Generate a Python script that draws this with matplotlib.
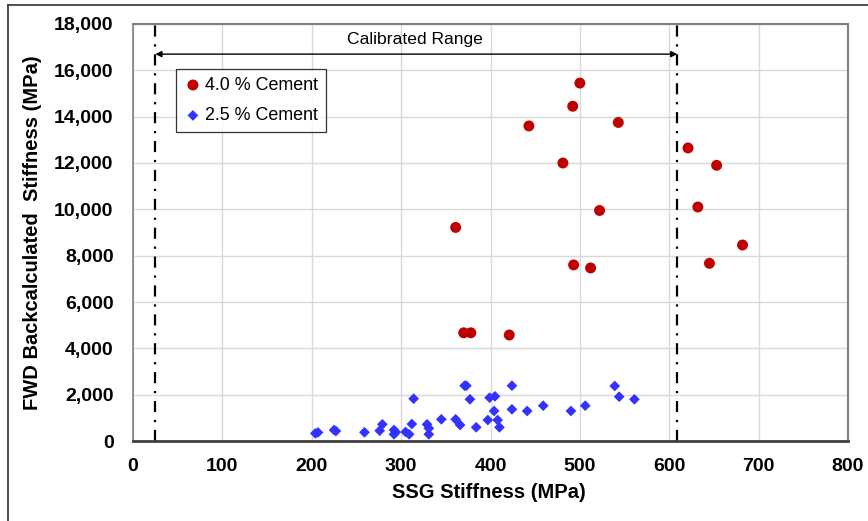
import matplotlib
matplotlib.use("Agg")
import matplotlib.pyplot as plt
from matplotlib.ticker import FuncFormatter
from matplotlib.lines import Line2D

plt.rcParams['font.family'] = ['Liberation Sans', 'DejaVu Sans']

# 4.0 % Cement
ssg_40 = [500, 492, 443, 543, 621, 481, 653, 632, 522, 361, 682, 493, 512, 645, 370, 378, 421]
fwd_40 = [15450, 14450, 13600, 13750, 12650, 12000, 11900, 10100, 9950, 9220, 8460, 7600, 7470, 7670, 4670, 4670, 4575]

# 2.5 % Cement
ssg_25 = [204, 207, 225, 227, 259, 276, 279, 292, 292, 294, 305, 309, 312, 314, 329, 331, 331, 345,
          361, 366, 371, 373, 377, 384, 397, 399, 405, 404, 408, 410, 424, 424, 441, 459, 490, 506,
          539, 544, 561]
fwd_25 = [330, 370, 475, 430, 375, 445, 720, 475, 290, 380, 390, 290, 734, 1826, 720, 548, 289, 936,
          936, 690, 2387, 2387, 1800, 591, 906, 1869, 1929, 1295, 906, 591, 2387, 1368, 1295, 1524, 1295, 1524,
          2374, 1912, 1800]

calib_lo, calib_hi = 25, 609
xticks = list(range(0, 801, 100))
yticks = list(range(0, 18001, 2000))

fig = plt.figure(figsize=(8.68, 5.21), dpi=100)
ax = fig.add_axes([133/868, 80/521, 715/868, 417/521])

ax.scatter(ssg_40, fwd_40, s=62, marker='o', color='#C00000', edgecolors='none', zorder=3, label='4.0 % Cement')
ax.scatter(ssg_25, fwd_25, s=30, marker='D', color='#3333FF', edgecolors='none', zorder=3, label='2.5 % Cement')

for xv in (calib_lo, calib_hi):
    ax.axvline(xv, color='black', lw=1.6, linestyle=(0, (5, 3.5, 1, 3.5)), zorder=2)

ax.annotate('', xy=(calib_lo, 16700), xytext=(calib_hi, 16700),
            arrowprops=dict(arrowstyle='<|-|>', color='black', lw=1.0, mutation_scale=9, shrinkA=0, shrinkB=0))
ax.text(315, 17330, 'Calibrated Range', ha='center', va='center', fontsize=12.6)

ax.set_xlim(0, 800)
ax.set_ylim(0, 18000)
ax.set_xticks(xticks)
ax.set_yticks(yticks)
ax.yaxis.set_major_formatter(FuncFormatter(lambda v, p: f"{int(v):,}"))
ax.grid(True, color='#d9d9d9', lw=1.0, zorder=0)
ax.set_axisbelow(True)
ax.tick_params(length=0, labelsize=14)
ax.tick_params(axis='y', pad=14)
ax.tick_params(axis='x', pad=12)
for lab in ax.get_xticklabels() + ax.get_yticklabels():
    lab.set_fontweight('bold')

for s in ('top', 'right'):
    ax.spines[s].set_color('#7f7f7f')
    ax.spines[s].set_linewidth(1.5)
ax.spines['bottom'].set_color('#404040')
ax.spines['bottom'].set_linewidth(2)
ax.spines['left'].set_color('#7f7f7f')
ax.spines['left'].set_linewidth(1.2)

ax.set_xlabel('SSG Stiffness (MPa)', fontsize=14.5, fontweight='bold')
ax.set_ylabel('FWD Backcalculated  Stiffness (MPa)', fontsize=14.5, fontweight='bold')
ax.xaxis.set_label_coords(0.498, -52/417, transform=ax.transAxes)
ax.yaxis.set_label_coords(-100/715, 0.5, transform=ax.transAxes)
ax.xaxis.label.set_va('center')
ax.yaxis.label.set_va('center')

leg = ax.legend(loc='upper left', bbox_to_anchor=(0.06, 0.893), fontsize=12.9, frameon=True,
                fancybox=False, edgecolor='black', handletextpad=0.15, handlelength=1.0,
                borderpad=0.45, labelspacing=0.75, borderaxespad=0)
leg.get_frame().set_linewidth(0.9)

# outer chart border
fig.add_artist(Line2D([8/868, 1], [1 - 5/521, 1 - 5/521], color='#404040', lw=1.3, transform=fig.transFigure))
fig.add_artist(Line2D([8/868, 8/868], [0, 1 - 5/521], color='#404040', lw=1.3, transform=fig.transFigure))

fig.savefig('out.png', dpi=100)
